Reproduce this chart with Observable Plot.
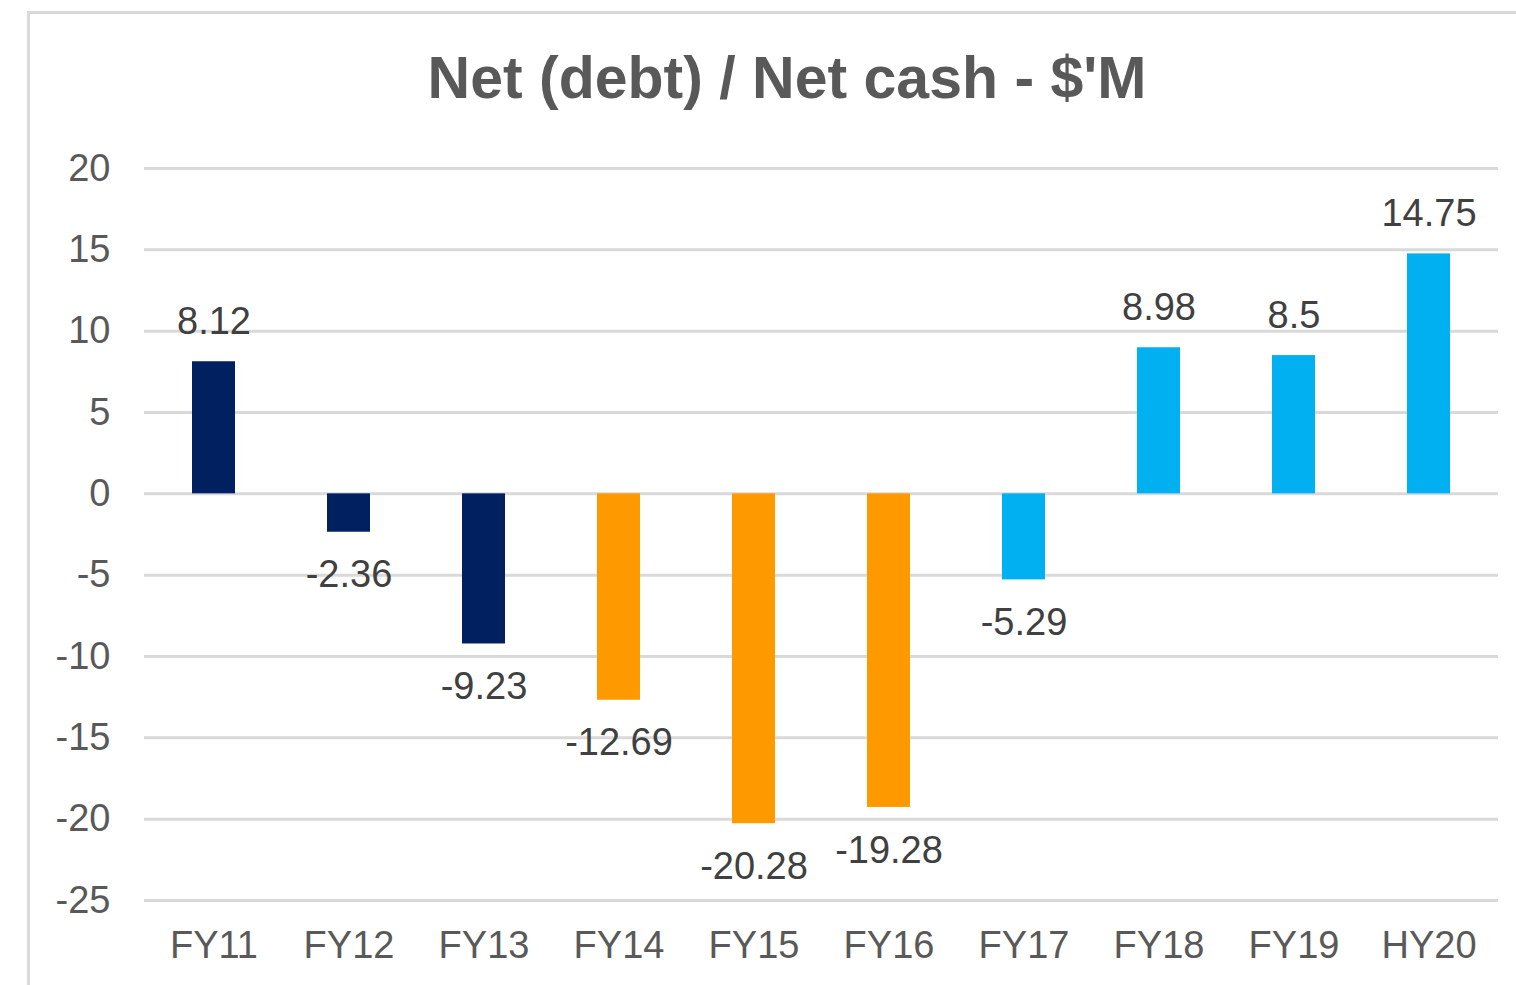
<!DOCTYPE html>
<html>
<head>
<meta charset="utf-8">
<script src="https://cdn.jsdelivr.net/npm/d3@7"></script>
<script src="https://cdn.jsdelivr.net/npm/@observablehq/plot@0.6"></script>
<style>
  html, body { margin: 0; padding: 0; background: #fff; }
  #wrap { position: relative; width: 1516px; height: 985px; overflow: hidden; font-family: "Liberation Sans", Arial, sans-serif; }
  #frame { position: absolute; left: 27px; top: 11px; right: -10px; bottom: -10px; border-left: 3px solid #d9d9d9; border-top: 3px solid #d9d9d9; }
  #title { position: absolute; left: 0; width: 1574px; top: 49px; text-align: center; font-size: 59px; line-height: 59px; font-weight: bold; color: #595959; white-space: pre; }
  #chart { position: absolute; left: 0; top: 0; }
</style>
</head>
<body>
<div id="wrap">
  <div id="frame"></div>
  <div id="chart"></div>
  <div id="title">Net (debt) / Net cash - $'M</div>
</div>
<script>
const periods = ["FY11", "FY12", "FY13", "FY14", "FY15", "FY16", "FY17", "FY18", "FY19", "HY20"];
const values = [8.12, -2.36, -9.23, -12.69, -20.28, -19.28, -5.29, 8.98, 8.5, 14.75];
const groups = ["A", "A", "A", "B", "B", "B", "C", "C", "C", "C"];
const groupColors = {A: "#002060", B: "#FF9900", C: "#00B0F0"};
const yTicks = [20, 15, 10, 5, 0, -5, -10, -15, -20, -25];

const data = periods.map((p, i) => ({period: p, value: values[i], color: groupColors[groups[i]]}));

const plot = Plot.plot({
  width: 1516,
  height: 985,
  marginTop: 168,
  marginBottom: 85,
  marginLeft: 144,
  marginRight: 18,
  style: {fontFamily: "'Liberation Sans', Arial, sans-serif", background: "transparent"},
  x: {domain: periods, paddingInner: 0.68, paddingOuter: 0.34, label: null},
  y: {domain: [-25, 20], label: null},
  marks: [
    Plot.ruleY(yTicks, {stroke: "#d9d9d9", strokeWidth: 3}),
    Plot.barY(data, {x: "period", y: "value", fill: "color"}),
    Plot.text(data.filter(d => d.value >= 0), {x: "period", y: "value", text: d => String(d.value), dy: -40, fontSize: 38, fill: "#404040", lineAnchor: "middle"}),
    Plot.text(data.filter(d => d.value < 0), {x: "period", y: "value", text: d => String(d.value), dy: 43, fontSize: 38, fill: "#404040", lineAnchor: "middle"}),
    Plot.axisY({ticks: yTicks, tickFormat: d => String(d), tickSize: 0, tickPadding: 34, fontSize: 38, color: "#595959", label: null}),
    Plot.axisX({tickSize: 0, tickPadding: 31, fontSize: 38, color: "#595959", label: null})
  ]
});
document.getElementById("chart").appendChild(plot);
</script>
</body>
</html>
